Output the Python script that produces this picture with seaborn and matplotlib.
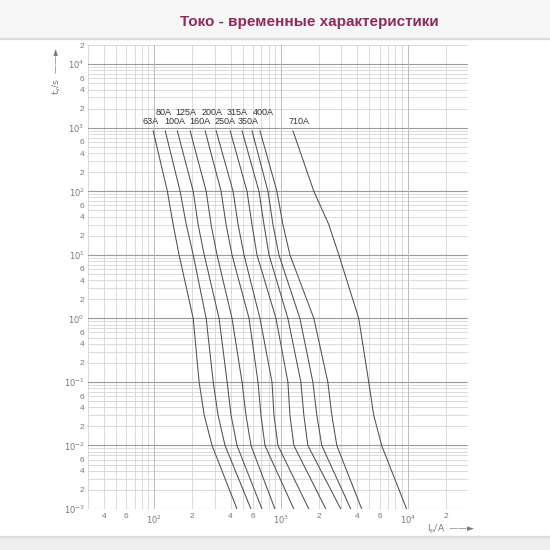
import numpy as np
import pandas as pd
import matplotlib
matplotlib.use('Agg')
import matplotlib.pyplot as plt
from matplotlib import ticker
from matplotlib.patches import Rectangle
import seaborn as sns

# fuse ratings and their time-current curves
fuses = ['63A', '80A', '100A', '125A', '160A', '200A', '250A', '315A',
         '350A', '400A', '710A']
times = [900, 100, 30, 10, 1, 0.1, 0.03, 0.01, 0.001]
currents = [
    [98, 127, 141, 157, 203, 226, 248, 286, 450],
    [122, 160, 179, 203, 257, 292, 319, 362, 580],
    [152, 203, 222, 248, 325, 376, 404, 450, 709],
    [192, 257, 281, 313, 411, 493, 530, 580, 897],
    [252, 337, 369, 411, 560, 659, 696, 748, 1265],
    [308, 419, 459, 511, 683, 850, 881, 947, 1661],
    [397, 540, 591, 647, 914, 1135, 1178, 1265, 2262],
    [493, 671, 735, 805, 1135, 1437, 1517, 1632, 2968],
    [591, 790, 865, 964, 1412, 1786, 1920, 2102, 3558],
    [683, 930, 1037, 1178, 1819, 2345, 2522, 2762, 4343],
    [1243, 1819, 2388, 2864, 4113, 4932, 5400, 6238, 9821],
]
# where the rating labels sit (current) and which row
label_currents = [93, 118, 146, 179, 230, 286, 362, 450, 550, 721, 1387]
label_times = [1250, 1750, 1250, 1750, 1250, 1750, 1250, 1750, 1250, 1750,
               1250]

x_ticks = [40, 60, 100, 200, 400, 600, 1000, 2000, 4000, 6000, 10000, 20000]
x_labels = ['4', '6', '$10^{2}$', '2', '4', '6', '$10^{3}$', '2', '4', '6',
            '$10^{4}$', '2']
y_decades = [-3, -2, -1, 0, 1, 2, 3, 4]

title = 'Токо - временные характеристики'

rows = []
for name, cur in zip(fuses, currents):
    for i, t in zip(cur, times):
        rows.append({'fuse': name, 'I': i, 't': t})
df = pd.DataFrame(rows)

sns.set_style('white')
plt.rcParams['font.family'] = ['Liberation Sans', 'DejaVu Sans']
plt.rcParams['mathtext.fontset'] = 'dejavusans'

fig = plt.figure(figsize=(5.5, 5.5), dpi=100)
fig.patches.append(Rectangle((0, 0.931), 1, 0.069, transform=fig.transFigure,
                             color='#f6f6f6', zorder=-5))
fig.patches.append(Rectangle((0, 0.929), 1, 0.002, transform=fig.transFigure,
                             color='#dddddd', zorder=-4))
fig.patches.append(Rectangle((0, 0), 1, 0.024, transform=fig.transFigure,
                             color='#eeeeee', zorder=-5))
fig.patches.append(Rectangle((0, 0.024), 1, 0.002, transform=fig.transFigure,
                             color='#dddddd', zorder=-4))
fig.text(0.562, 0.96, title, ha='center', va='center', fontsize=11,
         fontweight='bold', color='#8b2c5e')

ax = fig.add_axes([0.16, 0.0745, 0.691, 0.8435])
ax.set_xscale('log')
ax.set_yscale('log')
ax.set_xlim(30, 30000)
ax.set_ylim(1e-3, 2e4)

# log grid, decades darker
for axis in (ax.xaxis, ax.yaxis):
    axis.set_minor_locator(ticker.LogLocator(base=10, subs=np.arange(1, 10),
                                             numticks=60))
    axis.set_minor_formatter(ticker.NullFormatter())
    axis.remove_overlapping_locs = False
ax.grid(which='minor', color='#d4d4d4', lw=0.6)
ax.grid(which='major', visible=False)
for k in y_decades:
    ax.axhline(10.0 ** k, color='#9a9a9a', lw=0.8, zorder=1)
for k in [2, 3, 4]:
    ax.axvline(10.0 ** k, color='#bdbdbd', lw=0.7, zorder=1)

sns.lineplot(data=df, x='I', y='t', hue='fuse', units='fuse',
             estimator=None, sort=False, legend=False,
             palette=['#505050'] * len(fuses), lw=0.75, ax=ax, zorder=3)

for name, lx, ly in zip(fuses, label_currents, label_times):
    ax.text(lx, ly, name, ha='center', va='center', fontsize=6.5,
            color='#333333', zorder=4)

y_ticks, y_labels = [], []
for k in y_decades:
    y_ticks.append(10.0 ** k)
    y_labels.append('$10^{%d}$' % k)
    for m in (2, 4, 6):
        if m * 10.0 ** k <= 2e4:
            y_ticks.append(m * 10.0 ** k)
            y_labels.append(str(m))
ax.set_xticks(x_ticks)
ax.set_xticklabels(x_labels)
ax.set_yticks(y_ticks)
ax.set_yticklabels(y_labels)
ax.tick_params(which='both', length=0, labelsize=6, labelcolor='#777777',
               pad=3)
ax.tick_params(axis='y', pad=2.5)
ax.set_xlabel('')
ax.set_ylabel('')
sns.despine(ax=ax, left=True, bottom=True)

fig.text(0.104, 0.87, '$\\mathregular{t_v/s}$  ——►', rotation=90,
         ha='center', va='center', fontsize=6.5, color='#777777',
         family=['DejaVu Sans'])
fig.text(0.82, 0.037, '$\\mathregular{I_p/A}$  ——►', ha='center',
         va='center', fontsize=6.5, color='#777777', family=['DejaVu Sans'])

fig.savefig('out.png', dpi=100)
